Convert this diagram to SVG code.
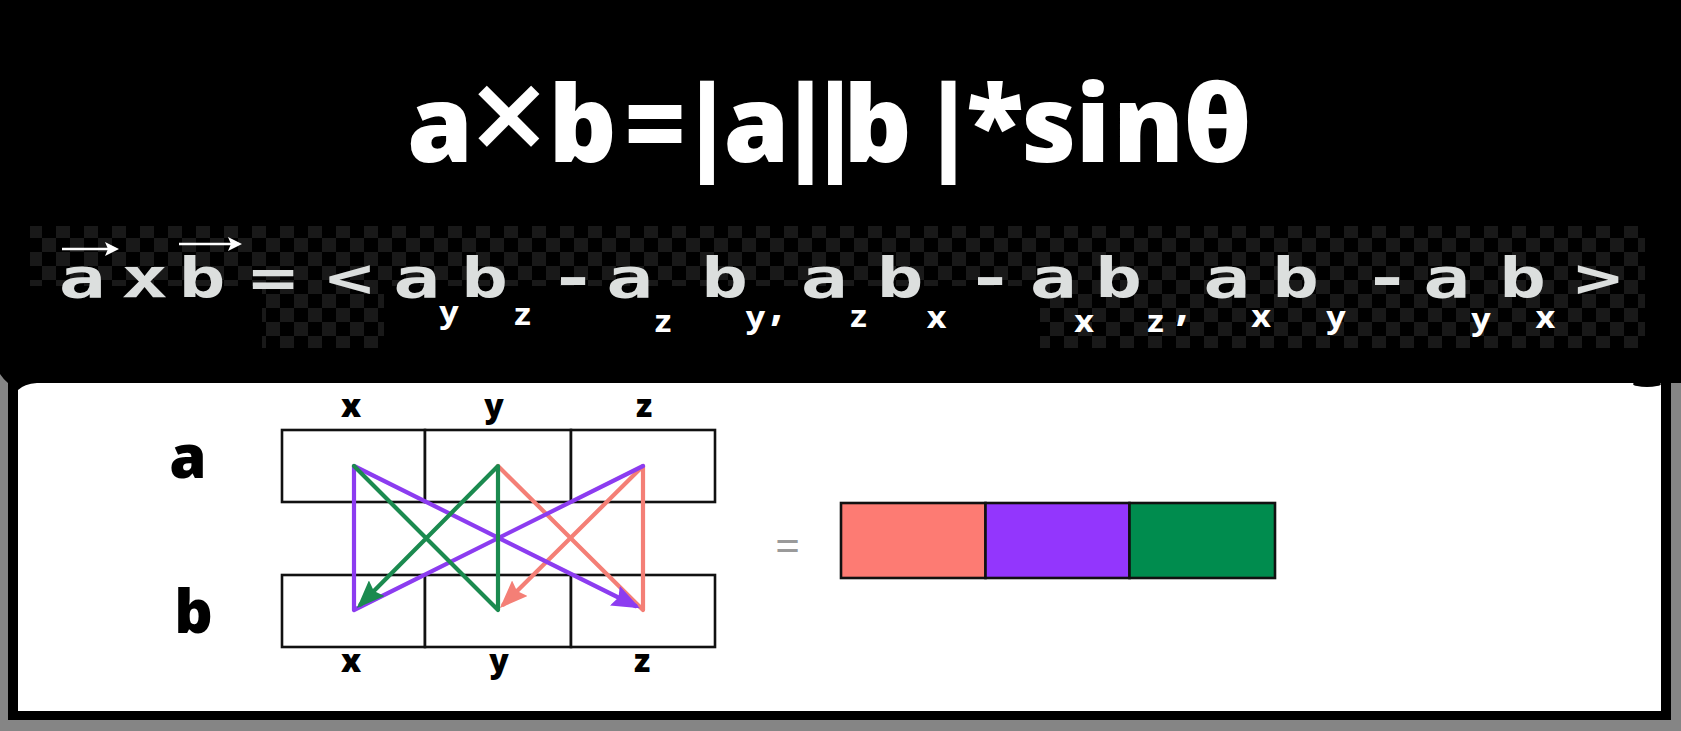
<svg xmlns="http://www.w3.org/2000/svg" width="1681" height="731" viewBox="0 0 1681 731">
<defs>
<style>
.title{font-family:"Open Sans","Noto Sans",sans-serif;font-weight:800;font-size:106px;fill:#fff;text-anchor:middle}
.m{font-family:"DejaVu Sans Mono",monospace;font-weight:700;font-size:56px;fill:#dcdfde;text-anchor:middle}
.s{font-family:"Open Sans","Noto Sans",sans-serif;font-weight:700;font-size:31px;fill:#fff;text-anchor:middle}
.cm{font-family:"Open Sans","Noto Sans",sans-serif;font-weight:700;font-size:44px;fill:#fff;text-anchor:middle}
.lbl{font-family:"Open Sans","Noto Sans",sans-serif;font-weight:800;fill:#000;text-anchor:middle}
.cell{fill:#fff;stroke:#111;stroke-width:2.6}
.con{fill:none;stroke-width:4.2;stroke-linejoin:round;stroke-linecap:round}
</style>
<pattern id="chk" width="28" height="28" patternUnits="userSpaceOnUse">
<rect width="14" height="14" fill="#191919"/>
<rect x="14" y="14" width="14" height="14" fill="#191919"/>
</pattern>
<marker id="hc" viewBox="0 0 28 22" refX="23" refY="11" markerWidth="28" markerHeight="22" markerUnits="userSpaceOnUse" orient="auto"><path d="M0,0 L28,11 L0,22 L4,11 Z" fill="#f47f76"/></marker>
<marker id="hp" viewBox="0 0 28 22" refX="23" refY="11" markerWidth="28" markerHeight="22" markerUnits="userSpaceOnUse" orient="auto"><path d="M0,0 L28,11 L0,22 L4,11 Z" fill="#8c3cf0"/></marker>
<marker id="hg" viewBox="0 0 28 22" refX="23" refY="11" markerWidth="28" markerHeight="22" markerUnits="userSpaceOnUse" orient="auto"><path d="M0,0 L28,11 L0,22 L4,11 Z" fill="#1b8a4f"/></marker>
</defs>

<rect width="1681" height="731" fill="#858585"/>
<rect x="8" y="300" width="1663" height="420" fill="#000"/>
<rect x="18" y="383" width="1643" height="328" fill="#fff"/>

<g id="header">
<path d="M0,0 H1681 V383 H37 Q24,384 18,390 H8 V383 Q4,380 0,374 Z" fill="#000"/>
<ellipse cx="1647" cy="384" rx="14" ry="3" fill="#000"/>
<g fill="url(#chk)">
<rect x="30" y="226" width="1615" height="60"/>
<rect x="262" y="286" width="122" height="62"/>
<rect x="1040" y="286" width="605" height="62"/>
</g>
<text class="title" y="162"><tspan x="440">a</tspan><tspan x="509" dy="3" font-size="138" font-weight="600">×</tspan><tspan x="582.5 655 707 756.5 805.5 835 877.5 948.5 995 1049 1093 1148.5 1217.5" dy="-3">b=|a||b|*sinθ</tspan></text>
</g>

<g id="formula">
<g fill="#fff" stroke="#fff">
<line x1="62" y1="249" x2="108" y2="249" stroke-width="2.6"/>
<path d="M119,249 L105,242 L108,249 L105,256 Z" stroke="none"/>
<line x1="179" y1="244" x2="231" y2="244" stroke-width="2.6"/>
<path d="M242,244 L228,237 L231,244 L228,251 Z" stroke="none"/>
</g>
<text class="m" transform="scale(1.4,1)" y="297" x="58.57 103.21 144.29 195 249.64 297.5 346.07 409.29 449.64 517.5 588.57 642.86 707.14 752.14 798.93 876.07 925.36 990.71 1033.21 1087.5 1141.43">axb=&lt;ab-abab-abab-ab&gt;</text>
<text class="s" transform="scale(1.1,1)" x="408.18 475 602.73 686.82 780.45 851.36 985.45 1050.45 1146.36 1214.55 1346.36 1405" y="323 325 332 328 327 328 332 332 327 328 330 328">yzzyzxxzxyyx</text>
<text class="cm" x="776.5 1182" y="320">,,</text>
</g>

<g id="grid">
<g id="row-a">
<rect class="cell" x="282" y="430" width="143" height="72"/>
<rect class="cell" x="425" y="430" width="146" height="72"/>
<rect class="cell" x="571" y="430" width="144" height="72"/>
</g>
<g id="row-b">
<rect class="cell" x="282" y="575" width="143" height="72"/>
<rect class="cell" x="425" y="575" width="146" height="72"/>
<rect class="cell" x="571" y="575" width="144" height="72"/>
</g>
<text class="lbl" font-size="60" x="188" y="478">a</text>
<text class="lbl" font-size="60" x="193.5" y="633">b</text>
<text class="lbl" font-size="32" x="351 494 644" y="417">xyz</text>
<text class="lbl" font-size="32" x="351 499 642" y="672">xyz</text>
</g>

<g id="connectors">
<path class="con" stroke="#f47f76" d="M498,466 L643,610 L643,466 L503.5,604.5" marker-end="url(#hc)"/>
<path class="con" stroke="#8c3cf0" d="M643,466 L354,610 L354,466 L635.5,606" marker-end="url(#hp)"/>
<path class="con" stroke="#1b8a4f" d="M354,466 L498,610 L498,466 L360.5,604.5" marker-end="url(#hg)"/>
</g>

<g id="result">
<text x="787.5" y="562" font-family="Open Sans, sans-serif" font-size="44" fill="#9a9a9a" text-anchor="middle">=</text>
<rect x="841" y="503" width="144.5" height="75" fill="#fd7b73" stroke="#111" stroke-width="2.6"/>
<rect x="985.5" y="503" width="144" height="75" fill="#9336fd" stroke="#111" stroke-width="2.6"/>
<rect x="1129.5" y="503" width="145.5" height="75" fill="#008c4e" stroke="#111" stroke-width="2.6"/>
</g>
</svg>
